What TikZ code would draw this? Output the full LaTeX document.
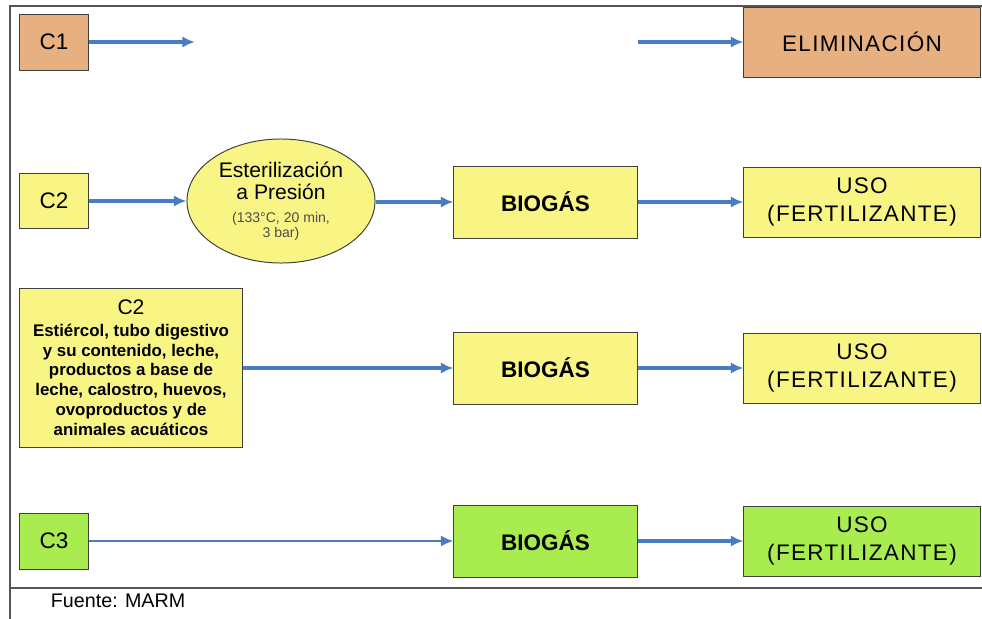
\documentclass[tikz,border=0pt]{standalone}
\usepackage{fontspec}
\setmainfont{Liberation Sans}
\usepackage{tikz}
\usetikzlibrary{shapes.geometric,arrows.meta,positioning}
\usepackage{xcolor}
\definecolor{c1color}{RGB}{230, 176, 128}
\definecolor{c2color}{RGB}{249, 245, 133}
\definecolor{c3color}{RGB}{168, 236, 80}
\definecolor{arrowcolor}{RGB}{74, 124, 196}
\definecolor{framecolor}{RGB}{85, 85, 85}

\begin{document}
\begin{tikzpicture}[
    x=0.025cm, y=-0.025cm,
    box/.style={rectangle, draw=black!75, line width=0.7pt, inner sep=0pt, align=center, font=\fontsize{16}{20}\selectfont},
    catbox/.style={box, minimum width=1.7cm, minimum height=1.4cm},
    endbox/.style={box, minimum width=5.9cm, minimum height=1.75cm, font=\fontsize{16}{20}\selectfont\addfontfeature{LetterSpace=6}},
    biobox/.style={box, minimum width=4.575cm, minimum height=1.8cm, font=\fontsize{16}{20}\selectfont\bfseries},
    flow/.style={-{Latex[length=9pt,width=8pt]}, line width=2.4pt, arrowcolor},
    frame/.style={line width=1.4pt, framecolor},
]
    \useasboundingbox (0,0) rectangle (982,619);

    % Frame
    \coordinate (ftl) at (10,6);
    \coordinate (ftr) at (982,6);
    \coordinate (fbl) at (10,619);
    \coordinate (fml) at (10,588);
    \coordinate (fmr) at (982,588);
    \draw[frame] (fbl) -- (ftl) -- (ftr);
    \draw[frame] (fml) -- (fmr);

    % Row 1: C1
    \node[catbox, fill=c1color] (c1) at (54,42) {C1};
    \node[endbox, fill=c1color] (elim) at (862,42) {ELIMINACIÓN};
    \coordinate (c1end) at (195,42);
    \coordinate (elimstart) at (638,42);
    \draw[flow] (c1.east) -- (c1end);
    \draw[flow] (elimstart) -- (elim.west);

    % Row 2: C2 with sterilisation
    \node[catbox, fill=c2color, minimum height=1.375cm] (c2) at (54,201) {C2};
    \node[ellipse, draw=black!75, line width=0.7pt, fill=c2color, inner sep=0pt, minimum width=4.7cm, minimum height=3.1cm, align=center,
          font=\fontsize{15}{15.6}\selectfont] (ster) at (281,201)
        {Esterilización\\a Presión\\[1pt]
         {\fontsize{10}{11}\selectfont\color{black!70}(133°C, 20 min,}\\[-5pt]
         {\fontsize{10}{11}\selectfont\color{black!70}3 bar)}};
    \node[biobox, fill=c2color] (bio1) at (545.5,202) {BIOGÁS};
    \node[endbox, fill=c2color] (uso1) at (862,202) {USO\\(FERTILIZANTE)};

    \draw[flow] (c2.east) -- (ster.west |- c2.east);
    \draw[flow] (ster.east |- bio1.west) -- (bio1.west);
    \draw[flow] (bio1) -- (uso1);

    % Row 3: C2 detailed
    \node[box, fill=c2color, minimum width=5.55cm, minimum height=3.95cm, font=\fontsize{12}{14.2}\selectfont\bfseries] (c2b) at (131,368)
        {{\fontsize{15}{17}\selectfont\mdseries C2}\\[1pt]
         Estiércol, tubo digestivo\\
         y su contenido, leche,\\
         productos a base de\\
         leche, calostro, huevos,\\
         ovoproductos y de\\
         animales acuáticos};
    \node[biobox, fill=c2color] (bio2) at (545.5,368) {BIOGÁS};
    \node[endbox, fill=c2color] (uso2) at (862,368) {USO\\(FERTILIZANTE)};

    \draw[flow] (c2b.east) -- (bio2.west);
    \draw[flow] (bio2) -- (uso2);

    % Row 4: C3
    \node[catbox, fill=c3color] (c3) at (54,541) {C3};
    \node[biobox, fill=c3color] (bio3) at (545.5,541) {BIOGÁS};
    \node[endbox, fill=c3color] (uso3) at (862,541) {USO\\(FERTILIZANTE)};

    \draw[flow, line width=2pt] (c3) -- (bio3);
    \draw[flow] (bio3) -- (uso3);

    % Source
    \node[anchor=west, font=\fontsize{14}{16}\selectfont] (fuente) at (46,601) {Fuente: MARM};

\end{tikzpicture}
\end{document}
